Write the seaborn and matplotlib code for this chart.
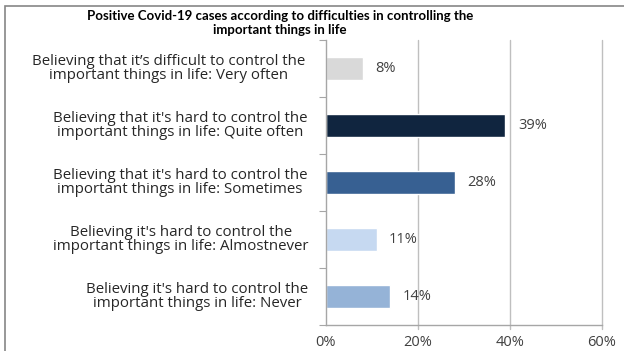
import matplotlib
matplotlib.use("Agg")
import matplotlib.pyplot as plt
import matplotlib.transforms as mtransforms
import seaborn as sns
import pandas as pd
from matplotlib.patches import Rectangle

categories = [
    "Believing that it\u2019s difficult to control the\nimportant things in life: Very often",
    "Believing that it's hard to control the\nimportant things in life: Quite often",
    "Believing that it's hard to control the\nimportant things in life: Sometimes",
    "Believing it's hard to control the\nimportant things in life: Almostnever",
    "Believing it's hard to control the\nimportant things in life: Never",
]
percentages = [8, 39, 28, 11, 14]
bar_colors = ["#D9D9D9", "#10253F", "#376092", "#C6D9F1", "#95B3D7"]
x_ticks = [0, 20, 40, 60]
x_tick_labels = ["0%", "20%", "40%", "60%"]
title = "Positive Covid-19 cases according to difficulties in controlling the\nimportant things in life"

# horizontal centres (figure pixels) of each category label block
label_centres = [169, 180, 180, 181, 197]

sns.set_theme(style="white")
plt.rcParams["font.family"] = ["Open Sans", "DejaVu Sans"]

df = pd.DataFrame({"category": categories, "pct": percentages})

W, H = 624, 351
fig = plt.figure(figsize=(W / 100, H / 100), dpi=100)
ax = fig.add_axes([326 / W, 1 - 325 / H, (602 - 326) / W, (325 - 40) / H])

sns.barplot(data=df, x="pct", y="category", hue="category", palette=bar_colors,
            width=0.4, orient="h", legend=False, ax=ax, saturation=1)

ax.set_xlim(0, 60)
ax.set_ylim(len(categories) - 0.5, -0.5)
ax.set_xticks(x_ticks)
ax.set_xticklabels(x_tick_labels, fontsize=10.5, color="#404040")
ax.set_yticks([i - 0.5 for i in range(len(categories) + 1)])
ax.set_yticklabels([])
ax.tick_params(axis="y", length=5, width=0.8, color="#A6A6A6", left=True, pad=2)
ax.tick_params(axis="x", length=0, pad=7)
ax.set_xlabel("")
ax.set_ylabel("")

for x in x_ticks[1:]:
    ax.axvline(x, ymin=-0.015, ymax=1, color="#BFBFBF", lw=1, clip_on=False, zorder=0)
for s in ["top", "right"]:
    ax.spines[s].set_visible(False)
for s in ["left", "bottom"]:
    ax.spines[s].set_color("#A6A6A6")
    ax.spines[s].set_linewidth(1)

label_tf = mtransforms.blended_transform_factory(fig.transFigure, ax.transData)
for i, (v, c) in enumerate(zip(percentages, categories)):
    ax.text(v + 2.7, i, f"{v}%", va="center", ha="left", fontsize=10.5, color="#404040")
    ax.text(label_centres[i] / W, i, c, transform=label_tf,
            ha="center", va="center", multialignment="center", fontsize=10.8,
            color="#262626", linespacing=0.82)

fig.text(280 / W, 1 - 23 / H, title, ha="center", va="center", fontsize=9.5,
         fontweight="bold", color="#000000", family=["Lato", "DejaVu Sans"],
         linespacing=1.25)

fig.patches.append(Rectangle((5 / W, -0.05), 1.1, 1 - 6 / H + 0.05, transform=fig.transFigure,
                             fill=False, edgecolor="#868686", lw=1.2))

fig.savefig("out.png", dpi=100, facecolor="white")
